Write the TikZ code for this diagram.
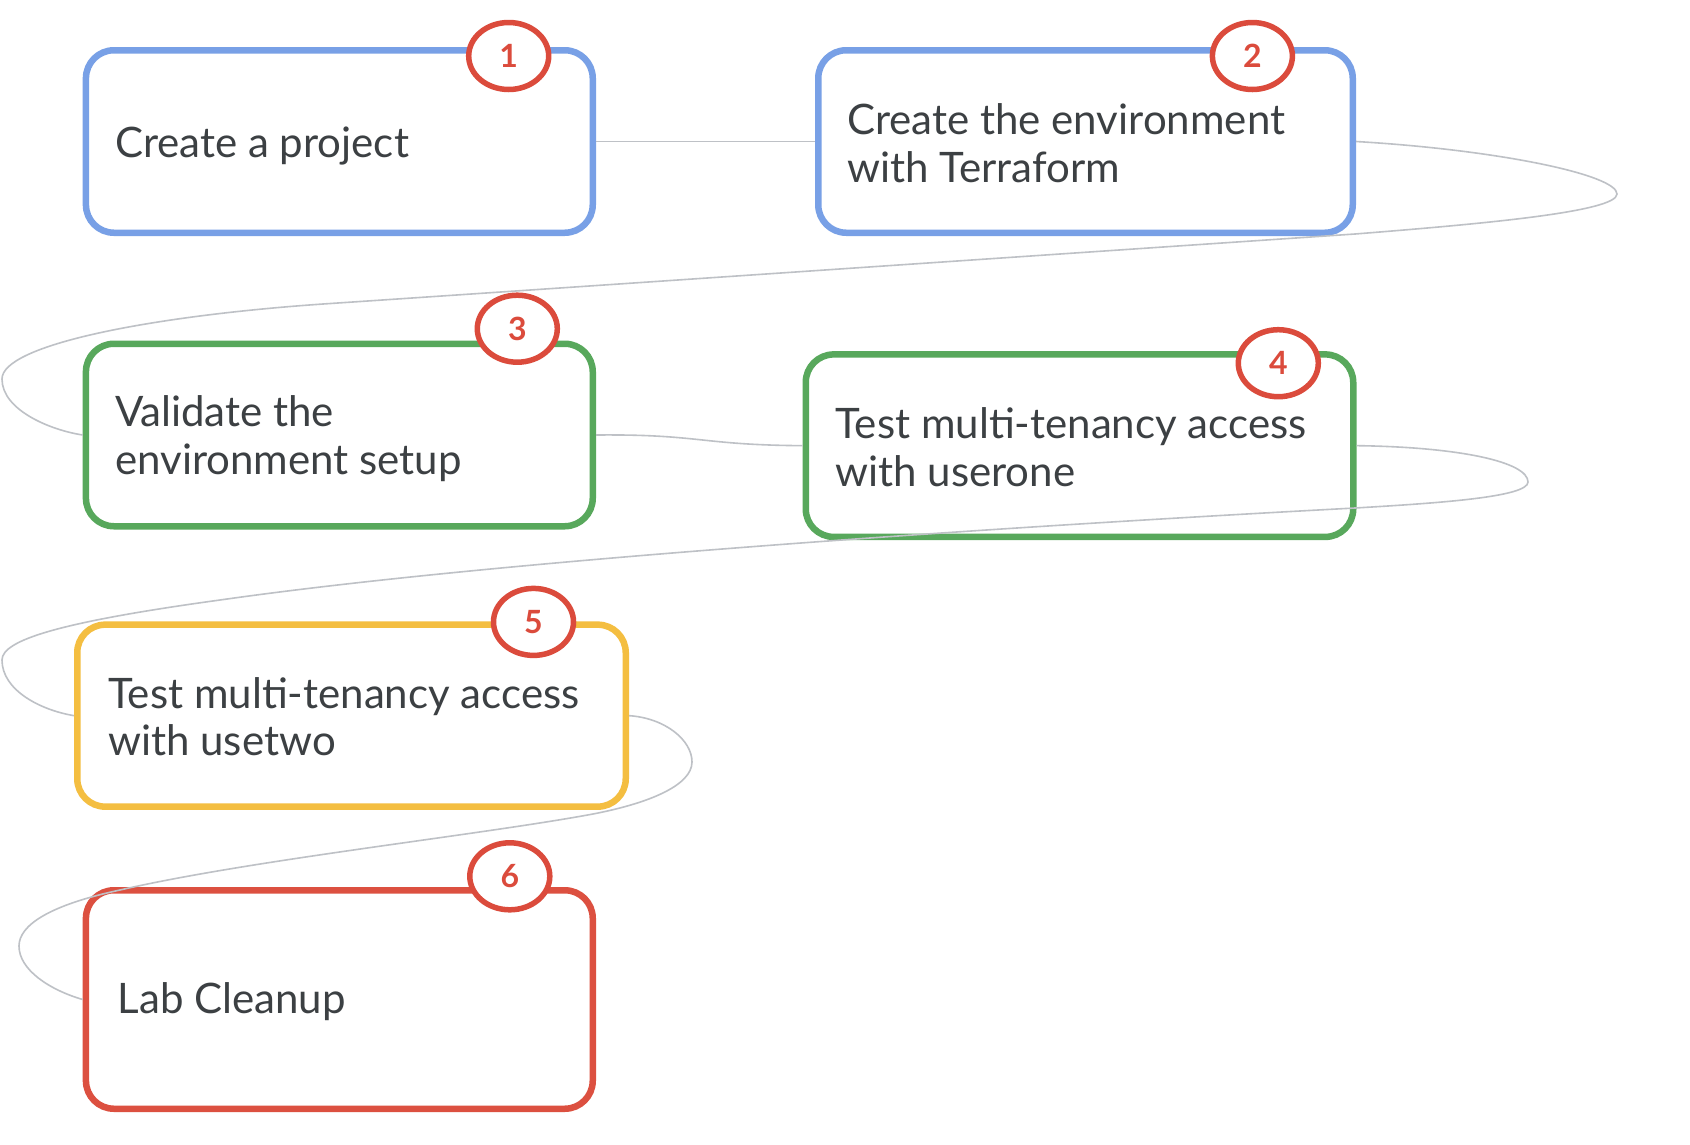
\documentclass[tikz,border=0pt]{standalone}
\usepackage{fontspec}
\setmainfont{Lato}
\usetikzlibrary{shapes.geometric}
\definecolor{bblue}{RGB}{120,160,230}
\definecolor{bgreen}{RGB}{88,168,92}
\definecolor{byellow}{RGB}{244,190,65}
\definecolor{bred}{RGB}{220,80,64}
\definecolor{cred}{RGB}{219,75,60}
\definecolor{tgray}{RGB}{60,64,67}
\definecolor{lgray}{RGB}{190,193,198}
\begin{document}
\begin{tikzpicture}[x=1pt,y=-1pt,
  stepbox/.style={draw=#1, line width=6.5pt, rounded corners=28pt, rectangle, inner sep=0pt, minimum width=506.8pt, minimum height=182.5pt},
  num/.style={ellipse, draw=cred, line width=5.5pt, fill=white, inner sep=0pt, minimum width=80pt, minimum height=67pt, text=cred, font=\fontsize{32}{34}\selectfont\bfseries},
  txt/.style={anchor=base west, align=left, inner sep=0pt, text=tgray, font=\fontsize{42}{47.5}\selectfont},
  conn/.style={draw=lgray, line width=1.6pt}
]
\useasboundingbox[fill=white] (0,0) rectangle (1690,1144);

\node[stepbox=bblue] (b1) at (339.35,141.5) {};
\node[stepbox=bblue, minimum width=534.5pt] (b2) at (1085.5,141.5) {};
\node[stepbox=bgreen] (b3) at (339.35,435) {};
\node[stepbox=bgreen, minimum width=547.5pt] (b4) at (1079.5,445.65) {};
\node[stepbox=byellow, minimum width=548.5pt, minimum height=182pt] (b5) at (351.5,715.65) {};
\node[stepbox=bred, minimum height=218.5pt] (b6) at (339.35,999.5) {};

% connectors
\draw[conn] (b1.east) -- (b2.west);
\draw[conn] (b2.east) .. controls (1500,150) and (1617,175) .. (1617,194)
  .. controls (1617,212) and (1480,224) .. (1355,234)
  .. controls (1000,258) and (650,282) .. (323,304)
  .. controls (150,316) and (2,345) .. (2,379)
  .. controls (2,410) and (50,430) .. (b3.west);
\draw[conn] (b3.east) .. controls (700,434) and (700,445) .. (b4.west);
\draw[conn] (b4.east) .. controls (1460,447) and (1528,462) .. (1528,482)
  .. controls (1528,497) and (1440,503) .. (1355,508)
  .. controls (1000,527) and (500,560) .. (220,600)
  .. controls (60,622) and (2,640) .. (2,660)
  .. controls (2,690) and (40,710) .. (b5.west);
\draw[conn] (b5.east) .. controls (665,718) and (692,740) .. (692,762)
  .. controls (692,785) and (650,803) .. (593,814)
  .. controls (480,835) and (250,860) .. (120,890)
  .. controls (50,905) and (19,925) .. (19,946)
  .. controls (19,970) and (50,990) .. (b6.west);

% number badges
\node[num] (c1) at (508.7,56) {1};
\node[num] (c2) at (1252.4,56) {2};
\node[num] (c3) at (517.3,328.7) {3};
\node[num] (c4) at (1278.3,363.2) {4};
\node[num] (c5) at (533.5,621.9) {5};
\node[num] (c6) at (509.8,876.3) {6};

% texts (base = baseline of last line)
\node[txt] (t1) at (115,157.5) {Create a project};
\node[txt] (t2) at (847,182) {Create the environment\\with Terraform};
\node[txt] (t3) at (115,474) {Validate the\\environment setup};
\node[txt] (t4) at (835,486) {Test multi-tenancy access\\with userone};
\node[txt] (t5) at (108,755.5) {Test multi-tenancy access\\with usetwo};
\node[txt] (t6) at (117.5,1013) {Lab Cleanup};
\end{tikzpicture}
\end{document}
